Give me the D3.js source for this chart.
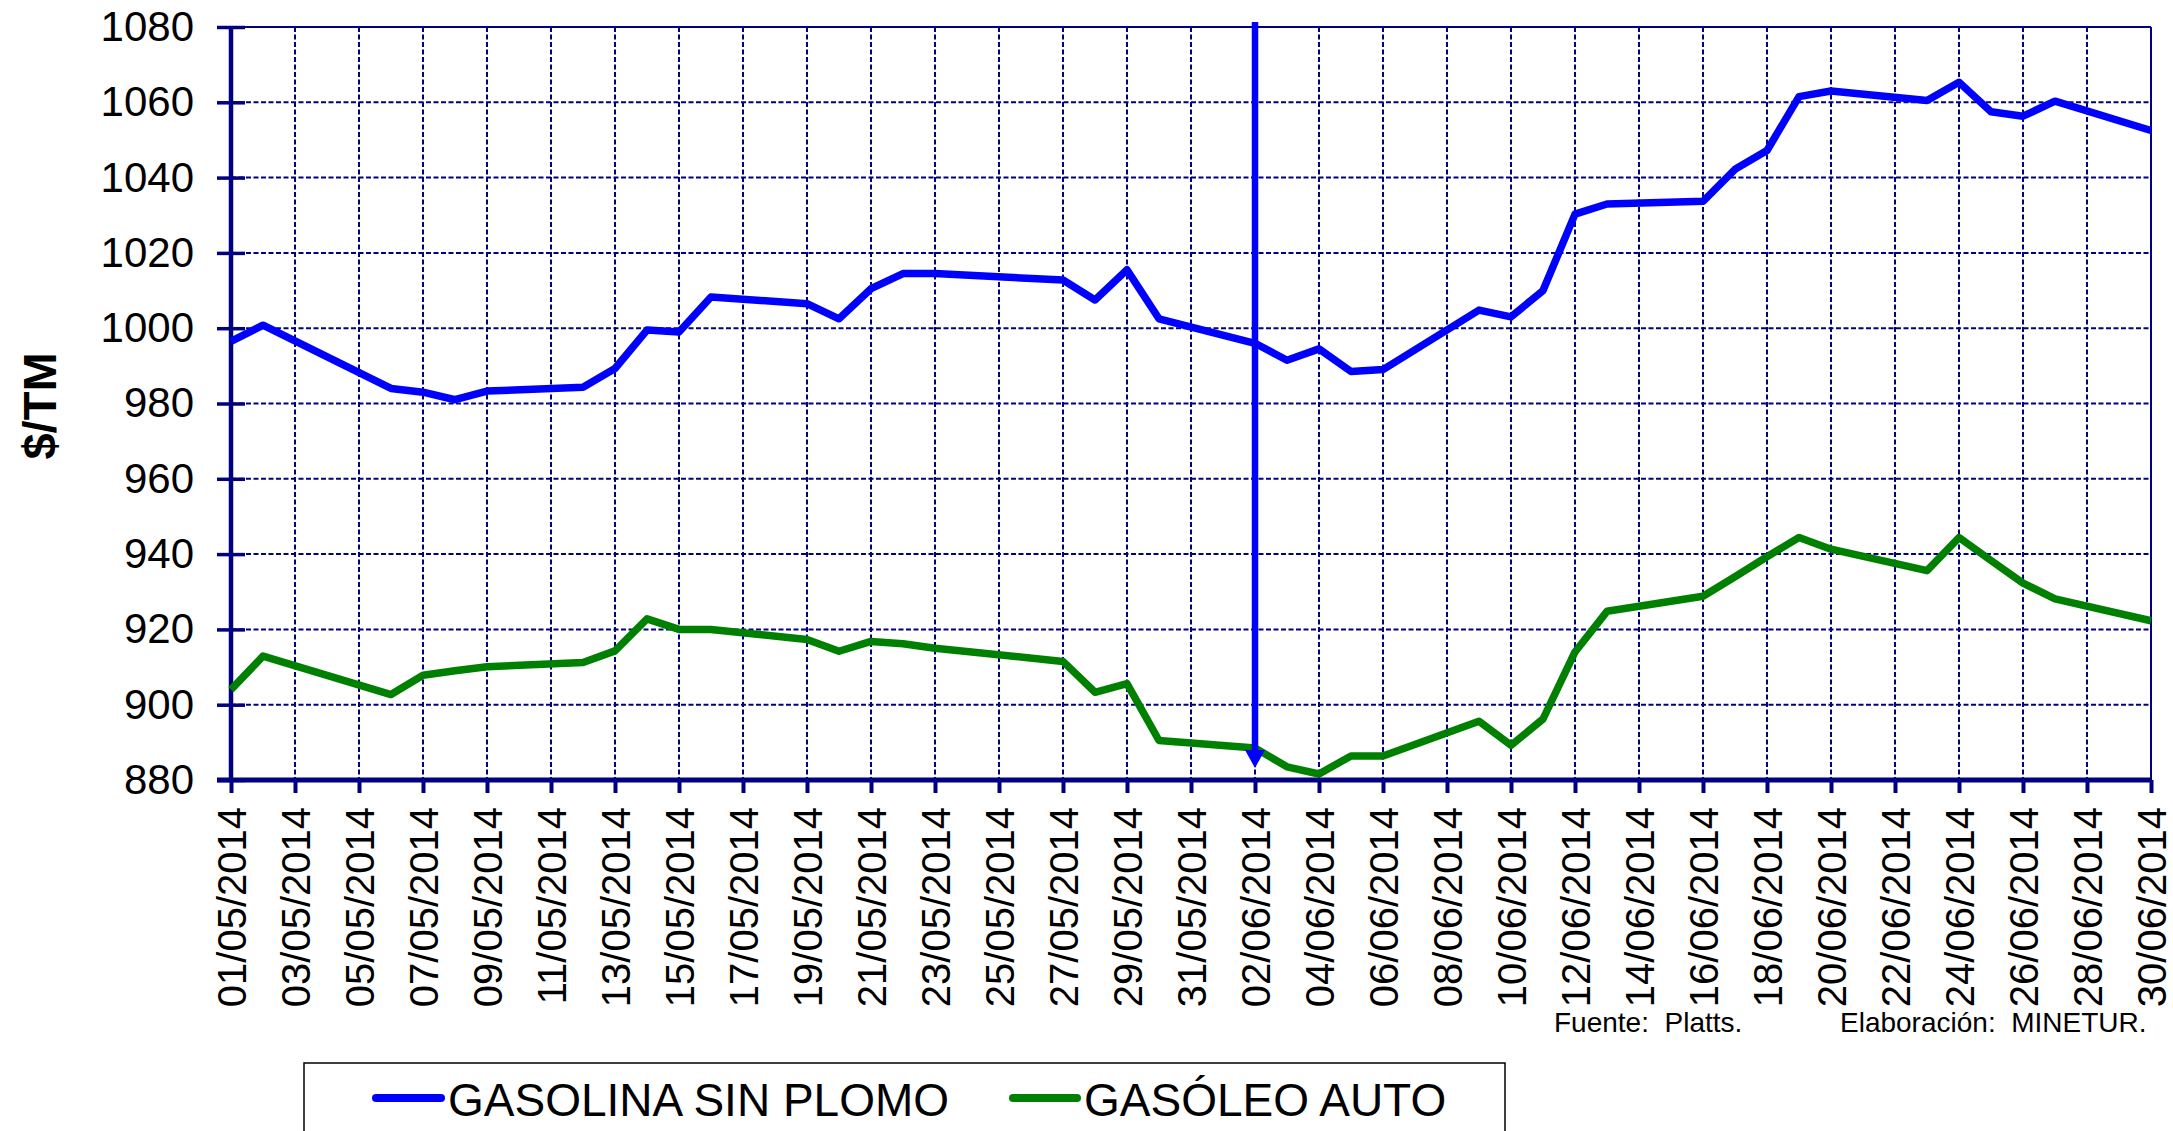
<!DOCTYPE html>
<html>
<head>
<meta charset="utf-8">
<script src="https://cdn.jsdelivr.net/npm/d3@7"></script>
<style>
  html, body { margin: 0; padding: 0; background: #fff; }
  svg { display: block; font-family: "Liberation Sans", Arial, sans-serif; }
</style>
</head>
<body>
<svg id="chart" width="2173" height="1131"></svg>
<script>
// ---------- data ----------
const dates = [
  "01/05/2014","02/05/2014","06/05/2014","07/05/2014","08/05/2014","09/05/2014",
  "12/05/2014","13/05/2014","14/05/2014","15/05/2014","16/05/2014",
  "19/05/2014","20/05/2014","21/05/2014","22/05/2014","23/05/2014",
  "27/05/2014","28/05/2014","29/05/2014","30/05/2014",
  "02/06/2014","03/06/2014","04/06/2014","05/06/2014","06/06/2014",
  "09/06/2014","10/06/2014","11/06/2014","12/06/2014","13/06/2014",
  "16/06/2014","17/06/2014","18/06/2014","19/06/2014","20/06/2014",
  "23/06/2014","24/06/2014","25/06/2014","26/06/2014","27/06/2014",
  "30/06/2014"
];
const gasolina = [
  996.5, 1000.8, 984, 983, 981, 983.3,
  984.3, 989.3, 999.5, 999, 1008.3,
  1006.5, 1002.5, 1010.5, 1014.5, 1014.5,
  1012.8, 1007.5, 1015.5, 1002.5,
  996, 991.5, 994.5, 988.5, 989,
  1004.8, 1003, 1010, 1030.3, 1033,
  1033.7, 1042.2, 1047.2, 1061.5, 1063,
  1060.5, 1065.3, 1057.5, 1056.3, 1060.3,
  1052.5
];
const gasoleo = [
  904, 912.9, 902.7, 907.8, 909, 910.1,
  911.2, 914.3, 922.8, 920, 920,
  917.3, 914.2, 916.8, 916.2, 915,
  911.5, 903.3, 905.6, 890.5,
  888.5, 883.5, 881.6, 886.4, 886.4,
  895.6, 889.2, 896.2, 914, 924.8,
  928.8, 934, 939.3, 944.4, 941.3,
  935.6, 944.4, 938.3, 932.3, 928.1,
  922.3
];
const xTickLabels = [
  "01/05/2014","03/05/2014","05/05/2014","07/05/2014","09/05/2014","11/05/2014",
  "13/05/2014","15/05/2014","17/05/2014","19/05/2014","21/05/2014","23/05/2014",
  "25/05/2014","27/05/2014","29/05/2014","31/05/2014","02/06/2014","04/06/2014",
  "06/06/2014","08/06/2014","10/06/2014","12/06/2014","14/06/2014","16/06/2014",
  "18/06/2014","20/06/2014","22/06/2014","24/06/2014","26/06/2014","28/06/2014",
  "30/06/2014"
];
const yTicks = [880, 900, 920, 940, 960, 980, 1000, 1020, 1040, 1060, 1080];
const seriesNames = ["GASOLINA SIN PLOMO", "GASÓLEO AUTO"];
const seriesColors = ["#0000FF", "#008000"];
const markerDate = "02/06/2014";
const yTitle = "$/TM";
const sourceText = "Fuente:  Platts.";
const authorText = "Elaboración:  MINETUR.";

// ---------- setup ----------
const parse = d3.utcParse("%d/%m/%Y");
const navy = "#000080";
const L = 231, R = 2151, T = 27, B = 780;

const svg = d3.select("#chart");
svg.append("rect").attr("width", 2173).attr("height", 1131).attr("fill", "#fff");

const x = d3.scaleUtc()
  .domain([parse(xTickLabels[0]), parse(xTickLabels[xTickLabels.length - 1])])
  .range([L, R]);
const y = d3.scaleLinear().domain([880, 1080]).range([B, T]);

// ---------- grid ----------
const grid = svg.append("g");
grid.selectAll("line.h").data(yTicks.slice(1, -1)).join("line")
  .attr("x1", L).attr("x2", R)
  .attr("y1", d => y(d)).attr("y2", d => y(d))
  .attr("stroke", navy).attr("stroke-width", 2).attr("stroke-dasharray", "5,2.5");
grid.selectAll("line.v").data(xTickLabels.slice(1, -1)).join("line")
  .attr("x1", d => x(parse(d))).attr("x2", d => x(parse(d)))
  .attr("y1", T).attr("y2", B)
  .attr("stroke", navy).attr("stroke-width", 2).attr("stroke-dasharray", "5,2.5");

// top & right borders
svg.append("line").attr("x1", L).attr("x2", R).attr("y1", T).attr("y2", T)
  .attr("stroke", navy).attr("stroke-width", 2);
svg.append("line").attr("x1", R).attr("x2", R).attr("y1", T).attr("y2", B)
  .attr("stroke", navy).attr("stroke-width", 2);

// ---------- y axis ----------
const yAxis = svg.append("g").attr("transform", `translate(${L},0)`)
  .call(d3.axisLeft(y).tickValues(yTicks).tickSize(14).tickPadding(23).tickFormat(d3.format("d")));
yAxis.select(".domain").remove();
yAxis.selectAll(".tick line").attr("x1", -14).attr("x2", 14)
  .attr("stroke", navy).attr("stroke-width", 3.5);
yAxis.selectAll(".tick text").attr("font-size", 42).attr("fill", "#000")
  .attr("font-family", "'Liberation Sans', Arial, sans-serif");
svg.append("line").attr("x1", L).attr("x2", L).attr("y1", T).attr("y2", B + 2)
  .attr("stroke", navy).attr("stroke-width", 4.5);

// ---------- x axis ----------
const xAxis = svg.append("g").attr("transform", `translate(0,${B})`)
  .call(d3.axisBottom(x).tickValues(xTickLabels.map(parse)).tickSize(13)
    .tickFormat(d3.utcFormat("%d/%m/%Y")));
xAxis.select(".domain").remove();
xAxis.selectAll(".tick line").attr("stroke", navy).attr("stroke-width", 4);
xAxis.selectAll(".tick text")
  .attr("font-size", 40).attr("fill", "#000")
  .attr("font-family", "'Liberation Sans', Arial, sans-serif")
  .attr("text-anchor", "end")
  .attr("transform", "translate(0,27) rotate(-90)")
  .attr("x", 0).attr("y", 0).attr("dy", "0.36em");
svg.append("line").attr("x1", L - 14).attr("x2", R).attr("y1", B).attr("y2", B)
  .attr("stroke", navy).attr("stroke-width", 5);

// ---------- series ----------
const line = d3.line().x((d, i) => x(parse(dates[i]))).y(d => y(d));
[gasolina, gasoleo].forEach((s, k) => {
  svg.append("path").datum(s).attr("d", line)
    .attr("fill", "none").attr("stroke", seriesColors[k])
    .attr("stroke-width", 7.5).attr("stroke-linejoin", "round");
});

// ---------- marker arrow ----------
const mx = x(parse(markerDate));
svg.append("line").attr("x1", mx).attr("x2", mx).attr("y1", T - 5).attr("y2", B - 28)
  .attr("stroke", "#0000FF").attr("stroke-width", 6.5);
svg.append("path")
  .attr("d", `M${mx - 10},${B - 30} L${mx + 10},${B - 30} L${mx},${B - 12} Z`)
  .attr("fill", "#0000FF");

// ---------- y title ----------
svg.append("text").attr("transform", "translate(56,406) rotate(-90)")
  .attr("text-anchor", "middle").attr("font-size", 47).attr("font-weight", "bold")
  .attr("fill", "#000").text(yTitle);

// ---------- legend ----------
const lg = svg.append("g");
lg.append("rect").attr("x", 304).attr("y", 1063).attr("width", 1201).attr("height", 100)
  .attr("fill", "#fff").attr("stroke", "#000").attr("stroke-width", 1.5);
const legItems = [{x0: 376, x1: 441, tx: 448}, {x0: 1013, x1: 1077, tx: 1084}];
legItems.forEach((it, k) => {
  lg.append("line").attr("x1", it.x0).attr("x2", it.x1).attr("y1", 1098).attr("y2", 1098)
    .attr("stroke", seriesColors[k]).attr("stroke-width", 8).attr("stroke-linecap", "round");
  lg.append("text").attr("x", it.tx).attr("y", 1116).attr("font-size", 46)
    .attr("fill", "#000").text(seriesNames[k]);
});

// ---------- source ----------
svg.append("text").attr("x", 1554).attr("y", 1032).attr("font-size", 28)
  .attr("fill", "#000").style("white-space", "pre").text(sourceText);
svg.append("text").attr("x", 1840).attr("y", 1032).attr("font-size", 28)
  .attr("fill", "#000").style("white-space", "pre").text(authorText);
</script>
</body>
</html>
